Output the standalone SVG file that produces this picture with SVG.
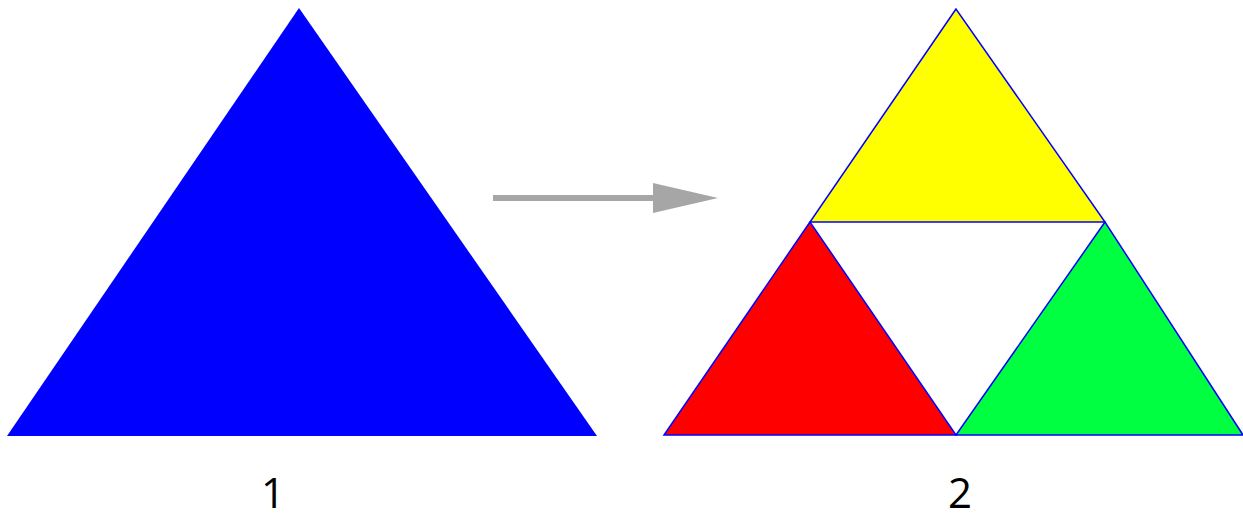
<svg xmlns="http://www.w3.org/2000/svg" width="1243" height="519" viewBox="0 0 1243 519">
<style>
.tri{stroke:#0000ff;stroke-width:1.5;stroke-linejoin:miter}
.lbl{font-family:"Open Sans","Liberation Sans",sans-serif;font-size:42px;fill:#000;text-anchor:middle}
</style>
<rect width="1243" height="519" fill="#ffffff"/>
<g id="blue-triangle">
<polygon points="299,8 7,436 597,436" fill="#0000ff"/>
</g>
<g id="connectors">
<line x1="493" y1="198" x2="656" y2="198" stroke="#a6a6a6" stroke-width="6"/>
<polygon points="653,183 718,198 653,213" fill="#a6a6a6"/>
</g>
<g id="yellow-triangle">
<polygon class="tri" points="956,9 810,222 1105,222" fill="#ffff00"/>
</g>
<g id="red-triangle">
<polygon class="tri" points="810,222 664,435 956,435" fill="#ff0000"/>
</g>
<g id="green-triangle">
<polygon class="tri" points="1105,222 956,435 1243,435" fill="#00ff40"/>
</g>
<g id="label-1"><text class="lbl" x="273" y="508">1</text></g>
<g id="label-2"><text class="lbl" x="960" y="508">2</text></g>
</svg>
